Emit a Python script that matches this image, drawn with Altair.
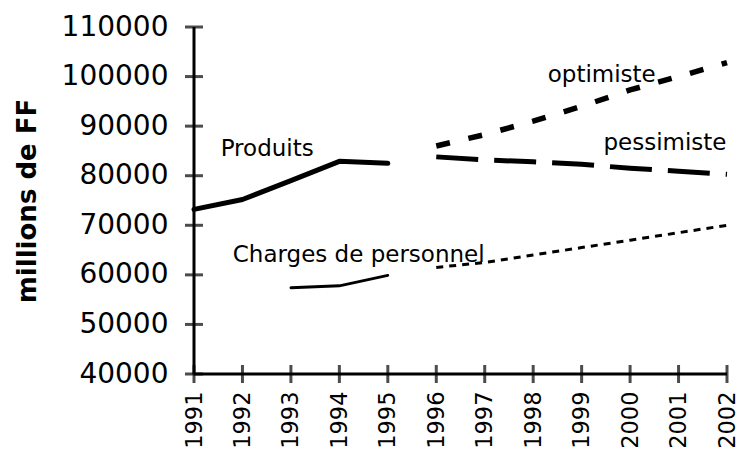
import altair as alt
import pandas as pd

years = list(range(1991, 2003))

produits_years = [1991, 1992, 1993, 1994, 1995]
produits_vals = [73200, 75200, 79000, 82900, 82500]

optimiste_years = [1996, 1997, 1998, 1999, 2000, 2001, 2002]
optimiste_vals = [86000, 88300, 91000, 94000, 97300, 100000, 102800]

pessimiste_years = [1996, 1997, 1998, 1999, 2000, 2001, 2002]
pessimiste_vals = [83800, 83200, 82800, 82300, 81500, 80900, 80300]

charges_years = [1993, 1994, 1995]
charges_vals = [57400, 57800, 59900]

charges_proj_years = [1996, 1997, 1998, 1999, 2000, 2001, 2002]
charges_proj_vals = [61500, 62500, 64000, 65500, 67000, 68500, 70000]

label_texts = ["Produits", "optimiste", "pessimiste", "Charges de personnel"]
label_years = [1991.55, 1998.3, 1999.45, 1991.8]
label_vals = [85300, 100300, 86600, 64000]

y_ticks = list(range(40000, 110001, 10000))

xscale = alt.Scale(domain=[1991, 2002], nice=False, zero=False)
yscale = alt.Scale(domain=[40000, 110000], nice=False, zero=False)

FONT = "DejaVu Sans"

xaxis = alt.Axis(values=years, format="d", labelAngle=-90, labelAlign="right",
                 labelBaseline="middle", labelFontSize=22.5, labelFont=FONT,
                 labelColor="black", ticks=False, domain=False, grid=False,
                 labelPadding=17, title=None, labelOverlap=False)
yaxis = alt.Axis(values=y_ticks, format="d", labelFontSize=28, labelFont=FONT,
                 labelColor="black", ticks=False, domain=False, grid=False,
                 labelPadding=26, title="millions  de  FF", titleFont=FONT,
                 titleFontSize=26, titleFontWeight="bold", titleColor="black",
                 titlePadding=21, labelOverlap=False)


def series(xs, vs):
    return pd.DataFrame({"year": xs, "value": vs})


base_enc = dict(
    x=alt.X("year:Q", scale=xscale, axis=xaxis),
    y=alt.Y("value:Q", scale=yscale, axis=yaxis),
)

produits = alt.Chart(series(produits_years, produits_vals)).mark_line(
    color="black", strokeWidth=5, strokeCap="round", strokeJoin="round"
).encode(**base_enc)

optimiste = alt.Chart(series(optimiste_years, optimiste_vals)).mark_line(
    color="black", strokeWidth=5.5, strokeDash=[14, 19], strokeCap="butt"
).encode(x="year:Q", y="value:Q")

pessimiste = alt.Chart(series(pessimiste_years, pessimiste_vals)).mark_line(
    color="black", strokeWidth=5, strokeDash=[42, 16], strokeCap="butt"
).encode(x="year:Q", y="value:Q")

charges = alt.Chart(series(charges_years, charges_vals)).mark_line(
    color="black", strokeWidth=2.8, strokeCap="round"
).encode(x="year:Q", y="value:Q")

charges_proj = alt.Chart(series(charges_proj_years, charges_proj_vals)).mark_line(
    color="black", strokeWidth=3, strokeDash=[7, 6], strokeCap="butt"
).encode(x="year:Q", y="value:Q")

labels = alt.Chart(pd.DataFrame({"t": label_texts, "year": label_years, "value": label_vals})).mark_text(
    align="left", baseline="middle", font=FONT, fontSize=23, color="black"
).encode(x="year:Q", y="value:Q", text="t:N")

axis_df = pd.DataFrame({"x0": [1991, 1991], "x1": [1991, 2002], "y0": [40000, 40000], "y1": [110000, 40000]})
axis_lines = alt.Chart(axis_df).mark_rule(color="black", strokeWidth=3).encode(
    x="x0:Q", x2="x1:Q", y="y0:Q", y2="y1:Q"
)

yticks_df = pd.DataFrame({"year": [1991] * len(y_ticks), "value": y_ticks})
y_tickmarks = alt.Chart(yticks_df).mark_tick(
    color="black", orient="horizontal", size=18, thickness=3
).encode(x="year:Q", y="value:Q")

xticks_df = pd.DataFrame({"year": years, "value": [40000] * len(years)})
x_tickmarks = alt.Chart(xticks_df).mark_tick(
    color="black", orient="vertical", size=18, thickness=3
).encode(x="year:Q", y="value:Q")

chart = alt.layer(produits, optimiste, pessimiste, charges, charges_proj, labels,
                  axis_lines, y_tickmarks, x_tickmarks).properties(
    width=533, height=347,
    padding={"left": 186, "top": 19, "right": 12, "bottom": 78},
    autosize=alt.AutoSizeParams(type="none"),
    background="white",
).configure_view(stroke=None)

chart.save("out.html", embed_options={"renderer": "svg", "actions": False})
